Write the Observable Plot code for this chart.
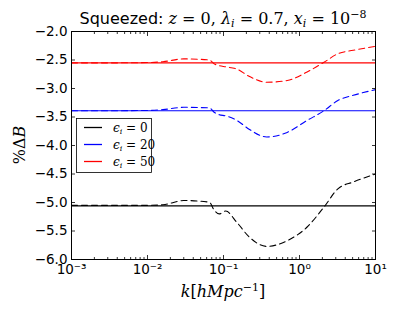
<!DOCTYPE html>
<html><head><meta charset="utf-8">
<script src="https://cdn.jsdelivr.net/npm/d3@7"></script>
<script src="https://cdn.jsdelivr.net/npm/@observablehq/plot@0.6"></script>
<style>body{margin:0;background:#fff}</style>
</head><body><div id="chart"></div>
<script>
// ---- data ----
const seriesLabels = ["0", "20", "50"];
const seriesColors = ["#000000", "#0000ff", "#ff0000"];
const baselineValues = [-5.06, -3.39, -2.55];
const kValues = [0.001, 0.003, 0.01, 0.016, 0.03, 0.065, 0.076, 0.088, 0.107, 0.15, 0.22, 0.37, 0.69, 1.26, 2.1, 3.2, 5.1, 10];
const dBEps0  = [-5.05, -5.05, -5.05, -5.04, -4.965, -4.995, -5.14, -5.2, -5.15, -5.35, -5.61, -5.77, -5.67, -5.43, -5.08, -4.76, -4.64, -4.5];
const dBEps20 = [-3.39, -3.39, -3.385, -3.37, -3.33, -3.34, -3.42, -3.46, -3.48, -3.56, -3.72, -3.85, -3.77, -3.56, -3.39, -3.21, -3.12, -3.02];
const dBEps50 = [-2.55, -2.55, -2.545, -2.53, -2.48, -2.5, -2.57, -2.6, -2.62, -2.66, -2.79, -2.89, -2.86, -2.71, -2.54, -2.39, -2.33, -2.26];
const xMajorTicks = [0.001, 0.01, 0.1, 1, 10];
const xTickLabels = ["10⁻³", "10⁻²", "10⁻¹", "10⁰", "10¹"];
const yTicks = [-6, -5.5, -5, -4.5, -4, -3.5, -3, -2.5, -2];

const seriesValues = [dBEps0, dBEps20, dBEps50];
const xMinorTicks = [];
for (let e = -3; e < 1; e++) for (let m = 2; m <= 9; m++) xMinorTicks.push(m * Math.pow(10, e));

const W = 417, H = 313, ML = 71, MR = 42, MT = 31, MB = 54;
const tickStyle = {stroke: "#000", strokeWidth: 0.8, label: null, tickFormat: () => ""};

const marks = [
  Plot.axisX({anchor: "bottom", ticks: xMajorTicks, tickSize: 0, tickPadding: 5, label: null,
    tickFormat: d => xTickLabels[xMajorTicks.indexOf(d)] ?? ""}),
  Plot.axisX({anchor: "bottom", ticks: xMajorTicks, tickSize: -4, ...tickStyle}),
  Plot.axisX({anchor: "bottom", ticks: xMinorTicks, tickSize: -2, ...tickStyle}),
  Plot.axisX({anchor: "top", ticks: xMajorTicks, tickSize: -4, ...tickStyle}),
  Plot.axisX({anchor: "top", ticks: xMinorTicks, tickSize: -2, ...tickStyle}),
  Plot.axisY({anchor: "left", ticks: yTicks, tickSize: 0, tickPadding: 4, label: null, tickFormat: d3.format(".1f")}),
  Plot.axisY({anchor: "left", ticks: yTicks, tickSize: -4, ...tickStyle}),
  Plot.axisY({anchor: "right", ticks: yTicks, tickSize: -4, ...tickStyle}),
];
seriesValues.forEach((vals, s) => {
  const rows = kValues.map((k, i) => ({k, v: vals[i]}));
  marks.push(Plot.ruleY([baselineValues[s]], {stroke: seriesColors[s], strokeWidth: 1.2}));
  marks.push(Plot.line(rows, {x: "k", y: "v", stroke: seriesColors[s], strokeWidth: 1.1,
    strokeDasharray: "6,4", curve: "monotone-x"}));
});
marks.push(Plot.frame({stroke: "#000", strokeWidth: 1}));

const chart = Plot.plot({
  width: W, height: H,
  marginLeft: ML, marginRight: MR, marginTop: MT, marginBottom: MB,
  style: {fontFamily: "DejaVu Sans", fontSize: "13.5px", background: "#fff", color: "#000"},
  x: {type: "log", domain: [1e-3, 10]},
  y: {domain: [-6, -2]},
  marks
});
document.getElementById("chart").appendChild(chart);

const svg = d3.select(chart);
const serif = "'DejaVu Serif', serif";
const cx = (ML + W - MR) / 2;

function part(sel, txt, opts = {}) {
  const ts = sel.append("tspan").text(txt);
  if (opts.serif) ts.attr("font-family", serif);
  if (opts.italic) ts.attr("font-style", "italic");
  if (opts.dy) ts.attr("dy", opts.dy);
  if (opts.size) ts.attr("font-size", opts.size);
  return ts;
}

// title
const t = svg.append("text").attr("x", cx).attr("y", 24).attr("text-anchor", "middle")
  .attr("font-size", 16).attr("fill", "#000").attr("font-family", "DejaVu Sans");
part(t, "Squeezed: ");
part(t, "z", {serif: 1, italic: 1});
part(t, " = 0, ", {serif: 1});
part(t, "λ", {serif: 1, italic: 1});
part(t, "i", {serif: 1, italic: 1, dy: 3, size: 11});
part(t, " = 0.7, ", {serif: 1, dy: -3});
part(t, "x", {serif: 1, italic: 1});
part(t, "i", {serif: 1, italic: 1, dy: 3, size: 11});
part(t, " = 10", {serif: 1, dy: -3});
part(t, "−8", {serif: 1, dy: -6, size: 11});

// x label
const xl = svg.append("text").attr("x", cx).attr("y", 297).attr("text-anchor", "middle")
  .attr("font-size", 16).attr("fill", "#000").attr("font-family", serif);
part(xl, "k", {italic: 1});
part(xl, "[");
part(xl, "hMpc", {italic: 1});
part(xl, "−1", {dy: -6, size: 11});
part(xl, "]", {dy: 6});

// y label
const yl = svg.append("text").attr("transform", `translate(25,${(MT + H - MB) / 2}) rotate(-90)`)
  .attr("text-anchor", "middle").attr("font-size", 16).attr("fill", "#000").attr("font-family", serif);
part(yl, "%Δ");
part(yl, "B", {italic: 1});

// legend
const lg = svg.append("g");
lg.append("rect").attr("x", 76.5).attr("y", 118.5).attr("width", 75).attr("height", 54)
  .attr("fill", "#fff").attr("stroke", "#000").attr("stroke-width", 0.8);
seriesLabels.forEach((lab, s) => {
  const y = 127.5 + s * 17;
  lg.append("line").attr("x1", 84).attr("x2", 102).attr("y1", y).attr("y2", y)
    .attr("stroke", seriesColors[s]).attr("stroke-width", 1.3);
  const tx = lg.append("text").attr("x", 113).attr("y", y + 4).attr("font-size", 12)
    .attr("text-anchor", "start").attr("font-family", serif).attr("fill", "#000");
  part(tx, "ϵ", {italic: 1});
  part(tx, "i", {italic: 1, dy: 2.5, size: 8});
  part(tx, " = " + lab, {dy: -2.5});
});
</script>
</body></html>
